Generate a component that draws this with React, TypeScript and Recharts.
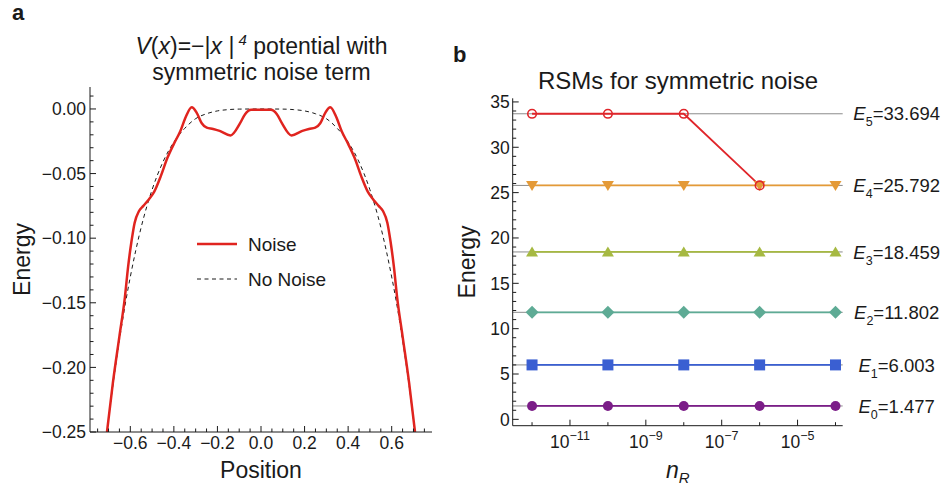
import React from 'react';
import { LineChart, Line, XAxis, YAxis, ReferenceLine, Legend } from 'recharts';

const FONT = '"Liberation Sans", Arial, Helvetica, sans-serif';
const INK = '#1a1a1a';
const RED = '#e0241f';

// ---- panel a: potential with / without noise ----
const noiseX = [
  -0.707, -0.68, -0.65, -0.625, -0.61, -0.595, -0.58, -0.56, -0.54, -0.515, -0.49, -0.46, -0.43,
  -0.4, -0.37, -0.345, -0.318, -0.295, -0.272, -0.249, -0.22, -0.19, -0.14, -0.096, -0.073,
  -0.045, 0, 0.045, 0.073, 0.096, 0.14, 0.19, 0.22, 0.249, 0.272, 0.295, 0.318, 0.345, 0.37,
  0.4, 0.43, 0.46, 0.49, 0.515, 0.54, 0.56, 0.58, 0.595, 0.61, 0.625, 0.65, 0.68, 0.707,
];
const noiseE = [
  -0.25, -0.212, -0.176, -0.146, -0.122, -0.103, -0.088, -0.079, -0.075, -0.07, -0.064, -0.052,
  -0.038, -0.027, -0.017, -0.006, 0.0013, -0.003, -0.011, -0.0145, -0.0155, -0.017, -0.0205,
  -0.011, -0.004, -0.0007, -0.0006, -0.0007, -0.004, -0.011, -0.0205, -0.017, -0.0155, -0.0145,
  -0.011, -0.003, 0.0013, -0.006, -0.017, -0.027, -0.038, -0.052, -0.064, -0.07, -0.075, -0.079,
  -0.088, -0.103, -0.122, -0.146, -0.176, -0.212, -0.25,
];
const cleanX = [
  -0.707, -0.68, -0.65, -0.62, -0.6, -0.55, -0.5, -0.45, -0.4, -0.35, -0.3, -0.25, -0.2, -0.15,
  -0.1, 0, 0.1, 0.15, 0.2, 0.25, 0.3, 0.35, 0.4, 0.45, 0.5, 0.55, 0.6, 0.62, 0.65, 0.68, 0.707,
];
const cleanE = [
  -0.25, -0.214, -0.179, -0.148, -0.13, -0.0915, -0.0625, -0.041, -0.0256, -0.015, -0.0075,
  -0.0037, -0.0015, -0.0005, -0.0001, 0, -0.0001, -0.0005, -0.0015, -0.0037, -0.0075, -0.015,
  -0.0256, -0.041, -0.0625, -0.0915, -0.13, -0.148, -0.179, -0.214, -0.25,
];
const noiseData = noiseX.map((x, i) => ({ x, e: noiseE[i] }));
const cleanData = cleanX.map((x, i) => ({ x, e: cleanE[i] }));

const aXTicks = Array.from({ length: 31 }, (_, i) => Number(((i - 15) * 0.05).toFixed(2)));
const aYTicks = Array.from({ length: 27 }, (_, i) => Number(((i - 25) * 0.01).toFixed(2)));

// ---- panel b: RSM energies vs n_R ----
const nR = [1e-12, 1e-10, 1e-8, 1e-6, 1e-4];
const E0 = [1.477, 1.477, 1.477, 1.477, 1.477];
const E1 = [6.003, 6.003, 6.003, 6.003, 6.003];
const E2 = [11.802, 11.802, 11.802, 11.802, 11.802];
const E3 = [18.459, 18.459, 18.459, 18.459, 18.459];
const E4 = [25.792, 25.792, 25.792, 25.792, 25.792];
const E5 = [33.694, 33.694, 33.694, 25.792, null];
const levels = [1.477, 6.003, 11.802, 18.459, 25.792, 33.694];
const bData = nR.map((n, i) => ({ n, e0: E0[i], e1: E1[i], e2: E2[i], e3: E3[i], e4: E4[i], e5: E5[i] }));

const bXTicks = [-12, -11, -10, -9, -8, -7, -6, -5, -4].map(p => Math.pow(10, p));
const bYTicks = Array.from({ length: 36 }, (_, i) => i);

const minus = (s: string) => s.replace('-', '\u2212');

// ticks drawn inward, Mathematica style
const AYTick = (props: any) => {
  const { x, y, payload } = props;
  const v = payload.value;
  const major = Math.round(v * 100) % 5 === 0;
  return (
    <g>
      <line x1={x} x2={x + (major ? 6 : 3.5)} y1={y} y2={y} stroke={INK} strokeWidth={1} />
      {major && (
        <text x={x - 4} y={y} dy="0.36em" textAnchor="end" fontSize={17.5} fill={INK} fontFamily={FONT}>
          {minus(v.toFixed(2))}
        </text>
      )}
    </g>
  );
};

const AXTick = (props: any) => {
  const { x, y, payload } = props;
  const v = payload.value;
  const k = Math.round(v * 20);
  const major = k % 4 === 0;
  return (
    <g>
      <line x1={x} x2={x} y1={y} y2={y - (major ? 6 : 3.5)} stroke={INK} strokeWidth={1} />
      {major && Math.abs(v) < 0.7 && (
        <text x={x} y={y + 17} textAnchor="middle" fontSize={17.5} fill={INK} fontFamily={FONT}>
          {minus(v.toFixed(1))}
        </text>
      )}
    </g>
  );
};

const BYTick = (props: any) => {
  const { x, y, payload } = props;
  const v = payload.value;
  const major = v % 5 === 0;
  return (
    <g>
      <line x1={x} x2={x + (major ? 6 : 3.5)} y1={y} y2={y} stroke={INK} strokeWidth={1} />
      {major && (
        <text x={x - 3} y={y} dy="0.36em" textAnchor="end" fontSize={17.5} fill={INK} fontFamily={FONT}>
          {v}
        </text>
      )}
    </g>
  );
};

const BXTick = (props: any) => {
  const { x, y, payload } = props;
  const p = Math.round(Math.log10(payload.value));
  const major = p % 2 !== 0;
  return (
    <g>
      <line x1={x} x2={x} y1={y} y2={y - (major ? 6 : 3.5)} stroke={INK} strokeWidth={1} />
      {major && (
        <text x={x} y={y + 22} textAnchor="middle" fontSize={17.5} fill={INK} fontFamily={FONT}>
          10<tspan fontSize={12.5} dy={-8}>{'\u2212' + Math.abs(p)}</tspan>
        </text>
      )}
    </g>
  );
};

const mk = (kind: string, color: string) => (props: any) => {
  const { cx, cy, index } = props;
  const key = `${kind}-${index}`;
  if (cx == null || cy == null) return <g key={key} />;
  switch (kind) {
    case 'square':
      return <rect key={key} x={cx - 5.5} y={cy - 5.5} width={11} height={11} fill={color} />;
    case 'diamond':
      return <polygon key={key} points={`${cx},${cy - 6.5} ${cx + 6.5},${cy} ${cx},${cy + 6.5} ${cx - 6.5},${cy}`} fill={color} />;
    case 'up':
      return <polygon key={key} points={`${cx},${cy - 5.5} ${cx + 6},${cy + 4.5} ${cx - 6},${cy + 4.5}`} fill={color} />;
    case 'down':
      return <polygon key={key} points={`${cx},${cy + 5.5} ${cx + 6},${cy - 4.5} ${cx - 6},${cy - 4.5}`} fill={color} />;
    case 'open':
      return <circle key={key} cx={cx} cy={cy} r={4.3} fill="none" stroke={color} strokeWidth={1.6} />;
    default:
      return <circle key={key} cx={cx} cy={cy} r={5} fill={color} />;
  }
};

const levelLabel = (k: number, val: number) => (props: any) => {
  const vb = props.viewBox || {};
  const x = vb.x + vb.width + 54;
  const y = vb.y;
  return (
    <text x={x} y={y} dy="0.36em" textAnchor="middle" fontSize={18.5} fill={INK} fontFamily={FONT}>
      <tspan fontStyle="italic">E</tspan>
      <tspan fontSize={12.5} dy={6}>{k}</tspan>
      <tspan dy={-6}>={val.toFixed(3)}</tspan>
    </text>
  );
};

const NoiseLegend = () => (
  <svg width={170} height={60} style={{ overflow: 'visible', display: 'block' }}>
    <line x1={0} x2={40} y1={12} y2={12} stroke={RED} strokeWidth={2.5} />
    <text x={51} y={12} dy="0.36em" fontSize={19} fill={INK} fontFamily={FONT}>Noise</text>
    <line x1={0} x2={40} y1={47} y2={47} stroke={INK} strokeWidth={1} strokeDasharray="4 3.5" />
    <text x={51} y={47} dy="0.36em" fontSize={19} fill={INK} fontFamily={FONT}>No Noise</text>
  </svg>
);

const series = [
  { key: 'e0', color: '#7b1d88', kind: 'circle' },
  { key: 'e1', color: '#3a5fd2', kind: 'square' },
  { key: 'e2', color: '#5eab95', kind: 'diamond' },
  { key: 'e3', color: '#a6b942', kind: 'up' },
  { key: 'e4', color: '#e49a37', kind: 'down' },
  { key: 'e5', color: '#e0262b', kind: 'open' },
];

export default function App() {
  return (
    <div style={{ position: 'absolute', left: 0, top: 0, width: 946, height: 491, background: '#fff', fontFamily: FONT }}>
      {/* panel a */}
      <div style={{ position: 'absolute', left: 0, top: 0 }}>
        <LineChart width={440} height={491} margin={{ top: 87, right: 8, bottom: 19, left: 0 }}>
          <XAxis
            type="number"
            dataKey="x"
            domain={[-0.785, 0.785]}
            allowDataOverflow
            ticks={aXTicks}
            interval={0}
            tickSize={0}
            tickMargin={0}
            tickLine={false}
            tick={<AXTick />}
            axisLine={{ stroke: INK }}
            height={40}
            label={(p: any) => (
              <text x={p.viewBox.x + p.viewBox.width / 2} y={p.viewBox.y + 46} textAnchor="middle" fontSize={23} fill={INK} fontFamily={FONT}>
                Position
              </text>
            )}
          />
          <YAxis
            type="number"
            domain={[-0.25, 0.017]}
            allowDataOverflow
            ticks={aYTicks}
            interval={0}
            tickSize={0}
            tickMargin={0}
            tickLine={false}
            tick={<AYTick />}
            axisLine={{ stroke: INK }}
            width={90}
            label={(p: any) => (
              <text
                x={22}
                y={p.viewBox.y + p.viewBox.height / 2}
                transform={`rotate(-90 22 ${p.viewBox.y + p.viewBox.height / 2})`}
                dy="0.36em"
                textAnchor="middle"
                fontSize={23}
                fill={INK}
                fontFamily={FONT}
              >
                Energy
              </text>
            )}
          />
          <Legend
            layout="horizontal"
            verticalAlign="middle"
            align="center"
            content={<NoiseLegend />}
            wrapperStyle={{ left: 197, top: 232, width: 170, height: 60 }}
          />
          <Line data={cleanData} dataKey="e" type="monotone" stroke={INK} strokeWidth={1} strokeDasharray="4 3.5" dot={false} isAnimationActive={false} />
          <Line data={noiseData} dataKey="e" type="monotone" stroke={RED} strokeWidth={2.5} dot={false} isAnimationActive={false} />
        </LineChart>
      </div>

      {/* panel b */}
      <div style={{ position: 'absolute', left: 440, top: 0 }}>
        <LineChart width={506} height={491} data={bData} margin={{ top: 98.3, right: 103.3, bottom: 15.3, left: 0 }}>
          <XAxis
            type="number"
            dataKey="n"
            scale="log"
            domain={[Math.pow(10, -12.51), Math.pow(10, -3.81)]}
            allowDataOverflow
            ticks={bXTicks}
            interval={0}
            tickSize={0}
            tickMargin={0}
            tickLine={false}
            tick={<BXTick />}
            axisLine={{ stroke: INK }}
            height={50}
            label={(p: any) => (
              <text x={p.viewBox.x + p.viewBox.width / 2} y={p.viewBox.y + 52} textAnchor="middle" fontSize={23} fill={INK} fontFamily={FONT}>
                <tspan fontStyle="italic">n</tspan>
                <tspan fontStyle="italic" fontSize={15} dy={5}>R</tspan>
              </text>
            )}
          />
          <YAxis
            type="number"
            domain={[-0.7, 35.4]}
            allowDataOverflow
            ticks={bYTicks}
            interval={0}
            tickSize={0}
            tickMargin={0}
            tickLine={false}
            tick={<BYTick />}
            axisLine={{ stroke: INK }}
            width={72.7}
            label={(p: any) => (
              <text
                x={27}
                y={p.viewBox.y + p.viewBox.height / 2}
                transform={`rotate(-90 27 ${p.viewBox.y + p.viewBox.height / 2})`}
                dy="0.36em"
                textAnchor="middle"
                fontSize={23}
                fill={INK}
                fontFamily={FONT}
              >
                Energy
              </text>
            )}
          />
          {levels.map((lv, k) => (
            <ReferenceLine key={k} y={lv} stroke="#8c8c8c" strokeWidth={1} label={levelLabel(k, lv)} />
          ))}
          {series.map(s => (
            <Line
              key={s.key}
              dataKey={s.key}
              type="linear"
              stroke={s.color}
              strokeWidth={1.8}
              dot={mk(s.kind, s.color)}
              activeDot={false}
              isAnimationActive={false}
            />
          ))}
        </LineChart>
      </div>

      {/* titles and panel letters */}
      <svg width={946} height={491} style={{ position: 'absolute', left: 0, top: 0, pointerEvents: 'none' }}>
        <text x={12} y={20} fontSize={22} fontWeight="bold" fill={INK} fontFamily={FONT}>a</text>
        <text x={453} y={62} fontSize={22} fontWeight="bold" fill={INK} fontFamily={FONT}>b</text>
        <text x={261.5} y={54} textAnchor="middle" fontSize={23} fill={INK} fontFamily={FONT}>
          <tspan fontStyle="italic">V</tspan>(<tspan fontStyle="italic">x</tspan>)={'\u2212'}|<tspan fontStyle="italic">x</tspan> |
          <tspan fontSize={15} dy={-9} fontStyle="italic">{' 4'}</tspan>
          <tspan dy={9}> potential with</tspan>
        </text>
        <text x={261.5} y={80} textAnchor="middle" fontSize={23} fill={INK} fontFamily={FONT}>
          symmetric noise term
        </text>
        <text x={678} y={89} textAnchor="middle" fontSize={24} fill={INK} fontFamily={FONT}>
          RSMs for symmetric noise
        </text>
      </svg>
    </div>
  );
}
